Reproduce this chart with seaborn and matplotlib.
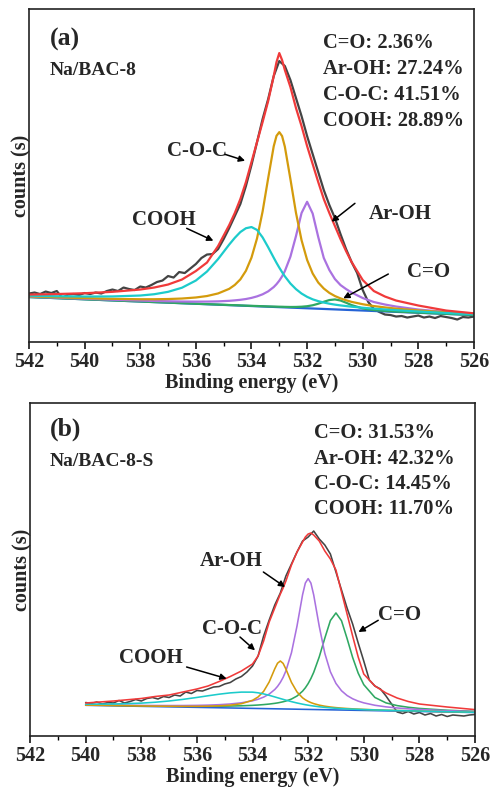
"""
O1s XPS : Na/BAC-8 (a) et Na/BAC-8-S (b), spectres bruts + déconvolution.
"""

import numpy as np
import matplotlib
matplotlib.use("Agg")
import matplotlib.pyplot as plt
import matplotlib.ticker as mticker
import seaborn as sns

sns.set_theme(style="ticks")
plt.rcParams["font.family"] = ["Liberation Serif", "DejaVu Serif"]
plt.rcParams["font.weight"] = "bold"
plt.rcParams["axes.labelweight"] = "bold"

# ── Panneau (a) : Na/BAC-8 ─────────────────────────────────────────────────────
E_RAW_A = np.linspace(542.0, 526.0, 81)
RAW_A = [48.5, 49.5, 48.0, 50.5, 49.0, 51.0, 44.0, 47.5, 48.0, 47.0, 49.0,
         48.0, 49.5, 48.5, 51.0, 52.5, 51.0, 54.5, 53.0, 52.0, 55.5,
         54.5, 57.0, 60.0, 61.5, 66.0, 64.5, 70.0, 69.0, 73.5, 78.0,
         84.0, 87.5, 88.0, 93.0, 103.0, 114.0, 126.0, 138.0, 156.0, 177.0,
         200.0, 223.0, 243.0, 266.0, 281.0, 276.0, 262.0, 244.0, 226.0, 206.0,
         188.0, 170.0, 152.0, 137.0, 124.0, 108.0, 93.0, 80.0, 69.0, 52.0,
         40.0, 33.0, 30.0, 27.5, 27.0, 25.5, 26.0, 24.5, 25.5, 26.5,
         24.5, 25.5, 24.0, 26.0, 25.0, 24.0, 22.5, 25.0, 24.5, 25.5]

E_FIT_A = [542, 541, 540, 539, 538, 537.5, 537, 536.5, 536, 535.6, 535.2, 534.8,
           534.6, 534.4, 534.2, 534.0, 533.8, 533.6, 533.4, 533.2, 533.1, 533.0,
           532.9, 532.8, 532.6, 532.4, 532.2, 532.0, 531.8, 531.6, 531.4, 531.2,
           531.0, 530.8, 530.6, 530.4, 530.0, 529.6, 529.2, 528.8, 528, 527, 526]
ENV_A = [47.5, 48.0, 48.8, 50.2, 52.5, 54.5, 57.5, 62.5, 71.0, 79.5, 96.0, 117.0,
         129.0, 143.0, 160.0, 180.0, 200.0, 220.0, 241.0, 266.0, 280.0, 289.0,
         282.0, 272.0, 255.0, 234.0, 216.0, 196.0, 178.0, 160.0, 143.0, 129.0,
         116.0, 103.0, 91.0, 80.0, 62.0, 51.0, 45.5, 41.5, 36.5, 31.5, 28.7]
COC_A = [45.7, 44.8, 43.95, 43.2, 42.8, 42.8, 43.0, 43.5, 44.55, 46.0, 48.6, 53.2,
         57.1, 62.65, 71.25, 84.4, 103.7, 130.55, 163.8, 195.8, 206.2, 209.9,
         206.0, 195.35, 162.9, 129.2, 101.9, 82.15, 68.55, 59.5, 53.5, 49.15,
         46.0, 43.65, 41.8, 40.15, 37.8, 35.95, 34.6, 33.4, 31.6, 29.7, 28.2]
COOH_A = [46.3, 45.8, 45.5, 45.6, 46.5, 47.8, 50.2, 54.3, 61.5, 70.5, 83.0, 97.5,
          104.2, 110.0, 113.8, 115.0, 112.1, 104.65, 94.8, 84.3, 79.2, 74.4,
          69.9, 65.7, 58.5, 52.9, 48.5, 45.2, 42.7, 40.9, 39.5, 38.35,
          37.4, 36.63, 35.98, 35.35, 34.3, 33.38, 32.57, 31.84, 30.53, 29.05, 27.73]
AROH_A = [45.35, 44.33, 43.3, 42.31, 41.47, 41.05, 40.79, 40.51, 40.41, 40.45, 40.68, 41.21,
          41.67, 42.23, 43.01, 44.13, 45.66, 47.73, 50.67, 54.99, 57.86, 61.36,
          65.67, 70.92, 85.38, 105.97, 129.0, 140.25, 128.5, 105.07, 84.08, 72.0,
          63.0, 57.0, 53.0, 49.5, 44.0, 40.0, 37.5, 35.5, 32.5, 30.0, 28.3]
CO_A = [45.0, 43.9, 42.75, 41.6, 40.55, 39.95, 39.45, 38.85, 38.32, 37.88, 37.45, 37.02,
        36.84, 36.6, 36.37, 36.19, 36.02, 35.8, 35.59, 35.45, 35.38, 35.31,
        35.26, 35.16, 35.05, 35.09, 35.31, 35.8, 36.76, 38.3, 40.24, 41.98,
        42.6, 41.53, 39.34, 36.95, 33.55, 31.94, 31.11, 30.5, 29.44, 28.22, 27.07]
E_BG_A = [542, 526]
BG_A = [45.0, 27.0]
PCT_A = ["C=O: 2.36%", "Ar-OH: 27.24%", "C-O-C: 41.51%", "COOH: 28.89%"]

# ── Panneau (b) : Na/BAC-8-S ───────────────────────────────────────────────────
E_RAW_B = np.linspace(540.0, 526.0, 71)
RAW_B = [33.5, 32.5, 34.0, 32.0, 33.5, 33.0, 35.5, 33.0, 34.5, 36.5, 35.0,
         37.5, 38.5, 37.0, 39.5, 38.5, 41.0, 40.0, 44.0, 42.5, 45.5,
         45.0, 47.0, 49.0, 49.5, 52.0, 53.5, 57.0, 59.5, 64.0, 70.0,
         80.0, 100.0, 116.0, 131.0, 143.0, 160.0, 172.0, 184.0, 195.0, 199.0,
         205.0, 197.0, 191.0, 182.0, 164.0, 146.0, 128.0, 112.0, 93.0, 75.0,
         56.0, 50.0, 47.0, 40.0, 32.0, 24.0, 22.5, 24.5, 22.0, 23.5,
         21.0, 22.5, 20.0, 21.5, 19.5, 21.0, 20.5, 20.0, 21.0, 21.5]

E_FIT_B = [540, 539, 538, 537.5, 537, 536.5, 536, 535.6, 535.2, 534.8, 534.4, 534.0,
           533.8, 533.6, 533.4, 533.2, 533.1, 533.0, 532.9, 532.8, 532.6, 532.4, 532.2,
           532.1, 532.0, 531.9,
           531.8, 531.6, 531.4, 531.2, 531.0, 530.8, 530.6, 530.4, 530.2, 530.0,
           529.6, 529.2, 528.8, 528.4, 528, 527, 526]
ENV_B = [33.0, 35.0, 37.5, 39.5, 41.0, 44.0, 47.0, 50.0, 54.5, 59.5, 65.0, 72.0,
         80.0, 95.0, 114.0, 128.0, 135.0, 142.0, 148.0, 155.0, 171.0, 184.0, 194.0,
         199.0, 202.0, 203.0,
         201.0, 195.0, 185.0, 177.0, 166.0, 144.0, 122.0, 100.0, 79.0, 62.0,
         50.0, 43.0, 38.0, 34.5, 32.0, 29.0, 26.4]
COOH_B = [31.86, 32.01, 32.88, 33.77, 35.01, 36.63, 38.56, 40.23, 41.82, 43.13, 43.89, 43.86,
          43.2, 42.1, 40.68, 39.09, 38.27, 37.45, 36.65, 35.86, 34.37, 33.02, 31.83,
          31.3, 30.81, 30.36,
          29.95, 29.22, 28.63, 28.14, 27.72, 27.39, 27.1, 26.86, 26.63, 26.43,
          26.08, 25.77, 25.47, 25.2, 24.94, 24.32, 23.74]
COC_B = [30.9, 30.46, 30.06, 29.89, 29.76, 29.68, 29.69, 29.83, 30.15, 30.85, 32.3, 35.69,
         39.03, 44.65, 54.07, 67.2, 72.8, 75.0, 72.65, 67.0, 53.66, 44.03, 38.21,
         36.22, 34.66, 33.41,
         32.4, 30.86, 29.79, 29.0, 28.38, 27.89, 27.5, 27.16, 26.87, 26.61,
         26.17, 25.81, 25.48, 25.19, 24.92, 24.29, 23.7]
AROH_B = [31.2, 30.85, 30.56, 30.48, 30.44, 30.48, 30.63, 30.89, 31.32, 32.03, 33.2, 35.21,
          36.74, 38.88, 41.92, 46.47, 49.62, 53.6, 58.64, 65.05, 83.24, 110.02, 141.29,
          152.99, 157.39, 152.89,
          141.09, 109.61, 82.62, 64.23, 52.57, 45.24, 40.48, 37.24, 34.89, 33.15,
          30.73, 29.15, 28.03, 27.19, 26.52, 25.3, 24.39]
CO_B = [31.05, 30.64, 30.25, 30.09, 29.95, 29.84, 29.77, 29.77, 29.82, 29.96, 30.21, 30.66,
        30.98, 31.41, 31.95, 32.66, 33.09, 33.63, 34.24, 34.97, 36.95, 39.99, 44.84,
        48.21, 52.4, 57.52,
        63.67, 79.17, 97.9, 115.46, 123.07, 115.25, 97.49, 78.56, 62.84, 51.37,
        38.55, 33.12, 30.4, 28.74, 27.57, 25.77, 24.63]
E_BG_B = [540, 526]
BG_B = [30.7, 23.5]
PCT_B = ["C=O: 31.53%", "Ar-OH: 42.32%", "C-O-C: 14.45%", "COOH: 11.70%"]

# ── Couleurs ───────────────────────────────────────────────────────────────────
C_RAW, C_ENV = "#444444", "#f03a3a"
C_COC, C_COOH, C_AROH, C_CO, C_BG = "#d49b0c", "#1ccbcb", "#aa72e0", "#2fa862", "#2563d6"
ARROW = dict(arrowstyle="-|>", color="black", lw=1.1, mutation_scale=9, shrinkA=0, shrinkB=0)

fig = plt.figure(figsize=(4.93, 7.87), dpi=100)
ax_a = fig.add_axes([0.0588, 0.5654, 0.9026, 0.4231])
ax_b = fig.add_axes([0.0609, 0.0648, 0.9026, 0.4231])


def draw(ax, e_raw, raw, e_fit, env, coc, cooh, aroh, co, e_bg, bg, lw):
    sns.lineplot(x=e_raw, y=raw, ax=ax, color=C_RAW, linewidth=lw, sort=False, estimator=None)
    sns.lineplot(x=e_bg, y=bg, ax=ax, color=C_BG, linewidth=lw, sort=False, estimator=None)
    for ys, c in [(co, C_CO), (aroh, C_AROH), (coc, C_COC), (cooh, C_COOH), (env, C_ENV)]:
        sns.lineplot(x=e_fit, y=ys, ax=ax, color=c, linewidth=lw, sort=False, estimator=None)
    ax.set_xlim(542, 526)
    ax.set_ylim(0, 333)
    ax.xaxis.set_major_locator(mticker.MultipleLocator(2))
    ax.xaxis.set_minor_locator(mticker.MultipleLocator(1))
    ax.set_yticks([])
    ax.tick_params(axis="x", which="major", direction="out", length=5, width=1.1,
                   labelsize=14.5, pad=2, color="black")
    ax.tick_params(axis="x", which="minor", direction="out", length=3, width=1.0, color="black")
    for lab in ax.get_xticklabels():
        lab.set_fontweight("bold")
    for s in ax.spines.values():
        s.set_linewidth(1.2)
        s.set_color("#222222")
    ax.set_xlabel("Binding energy (eV)", fontsize=14.5, labelpad=1)
    ax.set_ylabel("counts (s)", fontsize=14.5, labelpad=-2)


def label(ax, text, txy, tail, tip):
    ax.text(txy[0], txy[1], text, ha="center", va="center", fontsize=15, fontweight="bold")
    ax.annotate("", xy=tip, xytext=tail, arrowprops=ARROW)


# ── (a) ────────────────────────────────────────────────────────────────────────
draw(ax_a, E_RAW_A, RAW_A, E_FIT_A, ENV_A, COC_A, COOH_A, AROH_A, CO_A, E_BG_A, BG_A, 1.6)
ax_a.text(0.047, 0.91, "(a)", transform=ax_a.transAxes, ha="left", va="center",
          fontsize=18.5, fontweight="bold")
ax_a.text(0.047, 0.814, "Na/BAC-8", transform=ax_a.transAxes, ha="left", va="center",
          fontsize=14, fontweight="bold")
for t, y in zip(PCT_A, [0.897, 0.82, 0.742, 0.665]):
    ax_a.text(0.66, y, t, transform=ax_a.transAxes, ha="left", va="center",
              fontsize=14.8, fontweight="bold")
label(ax_a, "C-O-C", (535.97, 191.3), (534.95, 187.7), (534.23, 181.3))
label(ax_a, "COOH", (537.14, 122.0), (536.33, 113.7), (535.37, 101.3))
label(ax_a, "Ar-OH", (528.66, 127.7), (530.28, 138.7), (531.12, 120.3))
label(ax_a, "C=O", (527.63, 70.3), (529.08, 68.0), (530.70, 43.7))

# ── (b) ────────────────────────────────────────────────────────────────────────
draw(ax_b, E_RAW_B, RAW_B, E_FIT_B, ENV_B, COC_B, COOH_B, AROH_B, CO_B, E_BG_B, BG_B, 1.15)
ax_b.text(0.045, 0.92, "(b)", transform=ax_b.transAxes, ha="left", va="center",
          fontsize=18.5, fontweight="bold")
ax_b.text(0.045, 0.825, "Na/BAC-8-S", transform=ax_b.transAxes, ha="left", va="center",
          fontsize=14, fontweight="bold")
for t, y in zip(PCT_B, [0.911, 0.833, 0.756, 0.683]):
    ax_b.text(0.638, y, t, transform=ax_b.transAxes, ha="left", va="center",
              fontsize=14.8, fontweight="bold")
label(ax_b, "Ar-OH", (534.75, 175.0), (533.61, 164.0), (532.83, 149.0))
label(ax_b, "C-O-C", (534.75, 107.3), (534.45, 99.0), (533.91, 85.7))
label(ax_b, "COOH", (537.64, 78.0), (536.37, 69.0), (534.93, 57.4))
label(ax_b, "C=O", (528.70, 120.7), (529.48, 115.7), (530.19, 104.0))

fig.savefig("out.png", dpi=100)
plt.close(fig)
